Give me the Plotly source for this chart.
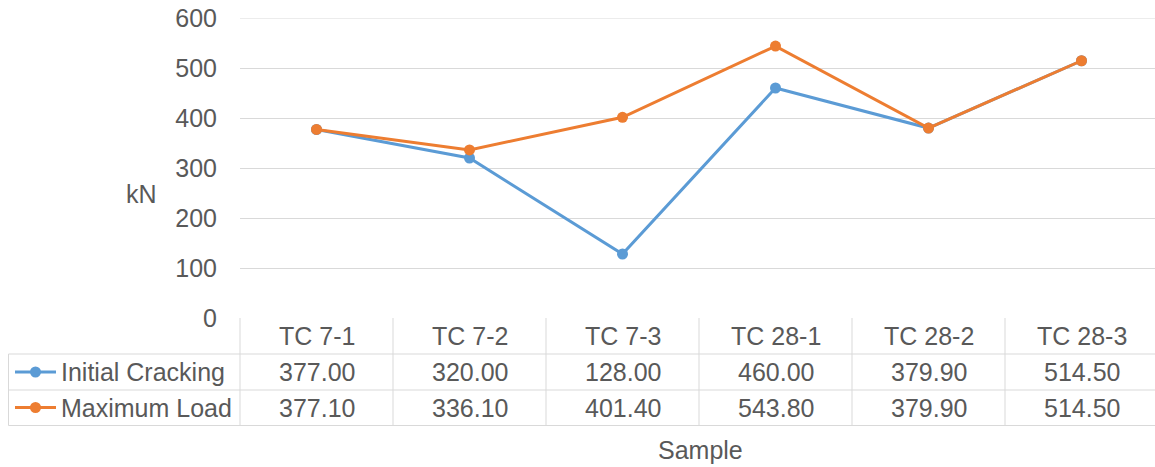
import plotly.graph_objects as go

categories = ["TC 7-1", "TC 7-2", "TC 7-3", "TC 28-1", "TC 28-2", "TC 28-3"]
initial_cracking = [377.00, 320.00, 128.00, 460.00, 379.90, 514.50]
maximum_load = [377.10, 336.10, 401.40, 543.80, 379.90, 514.50]
series_names = ["Initial Cracking", "Maximum Load"]
series_colors = ["#5B9BD5", "#ED7D31"]
y_ticks = [0, 100, 200, 300, 400, 500, 600]

W, H = 1155, 467
L, T = 240, 18
B = H - 318
plot_w = W - L
plot_h = H - T - B
cat_w = 153.0
FONT = "Liberation Sans, Arial, sans-serif"
TXT = "#595959"
GRID = "#D9D9D9"
FS = 25


def py(p):
    return (318 - p) / plot_h


def px(p):
    return (p - L) / plot_w


fig = go.Figure()
for name, vals, col in zip(series_names, [initial_cracking, maximum_load], series_colors):
    fig.add_trace(go.Scatter(
        x=categories, y=vals, mode="lines+markers", name=name,
        line=dict(color=col, width=3),
        marker=dict(color=col, size=11),
        cliponaxis=False, showlegend=False,
    ))

shapes = []
line_style = dict(color=GRID, width=1)
# top gridline (plotly drops gridlines on the range edge)
shapes.append(dict(type="line", xref="paper", yref="y", x0=0, x1=1, y0=600, y1=600,
                   line=line_style, layer="below"))
for yy in [354, 390, 425.5]:
    shapes.append(dict(type="line", xref="paper", yref="paper",
                       x0=px(8.5), x1=px(1160), y0=py(yy), y1=py(yy), line=line_style))
shapes.append(dict(type="line", xref="paper", yref="paper",
                   x0=px(8.5), x1=px(8.5), y0=py(354), y1=py(425.5), line=line_style))
shapes.append(dict(type="line", xref="paper", yref="paper",
                   x0=0, x1=0, y0=py(318), y1=py(425.5), line=line_style))
for i in range(1, len(categories)):
    shapes.append(dict(type="line", xref="x", yref="paper",
                       x0=i - 0.5, x1=i - 0.5, y0=py(318), y1=py(425.5), line=line_style))

annotations = []
for i, c in enumerate(categories):
    annotations.append(dict(x=i, y=py(336), xref="x", yref="paper", text=c,
                            showarrow=False, font=dict(family=FONT, size=FS, color=TXT),
                            xanchor="center", yanchor="middle"))
for r, (name, vals, col) in enumerate(zip(series_names, [initial_cracking, maximum_load], series_colors)):
    yc = 372 + r * 35.5
    for i, v in enumerate(vals):
        annotations.append(dict(x=i, y=py(yc), xref="x", yref="paper", text=f"{v:.2f}",
                                showarrow=False, font=dict(family=FONT, size=FS, color=TXT),
                                xanchor="center", yanchor="middle"))
    annotations.append(dict(x=px(59), y=py(yc), xref="paper", yref="paper", text=name,
                            showarrow=False, font=dict(family=FONT, size=FS, color=TXT),
                            xanchor="left", yanchor="middle"))
    shapes.append(dict(type="line", xref="paper", yref="paper",
                       x0=px(15), x1=px(56), y0=py(yc), y1=py(yc),
                       line=dict(color=col, width=3)))
    shapes.append(dict(type="circle", xref="paper", yref="paper",
                       x0=px(30), x1=px(41), y0=py(yc - 5.5), y1=py(yc + 5.5),
                       fillcolor=col, line=dict(color=col, width=0)))

annotations.append(dict(x=px(141), y=py(194), xref="paper", yref="paper", text="kN",
                        showarrow=False, font=dict(family=FONT, size=FS, color=TXT),
                        xanchor="center", yanchor="middle"))
annotations.append(dict(x=px(700), y=py(450), xref="paper", yref="paper", text="Sample",
                        showarrow=False, font=dict(family=FONT, size=FS, color=TXT),
                        xanchor="center", yanchor="middle"))

fig.update_layout(
    width=W, height=H,
    margin=dict(l=L, r=0, t=T, b=B, pad=0),
    paper_bgcolor="white", plot_bgcolor="white",
    shapes=shapes, annotations=annotations,
    xaxis=dict(type="category", range=[-0.5, -0.5 + plot_w / cat_w],
               showticklabels=False, showgrid=False, zeroline=False, showline=False,
               fixedrange=True),
    yaxis=dict(range=[0, 600], tickvals=y_ticks, ticktext=[str(t) for t in y_ticks],
               showgrid=True, gridcolor=GRID, gridwidth=1, zeroline=False, showline=False,
               tickfont=dict(family=FONT, size=FS, color=TXT),
               ticks="", ticklabelstandoff=22, ticklabeloverflow="allow",
               fixedrange=True),
    showlegend=False,
    hovermode=False,
)

fig.write_html(
    "out.html",
    config={"displayModeBar": False, "staticPlot": True},
    post_script="document.body.style.margin='0';document.body.style.overflow='hidden';",
)
